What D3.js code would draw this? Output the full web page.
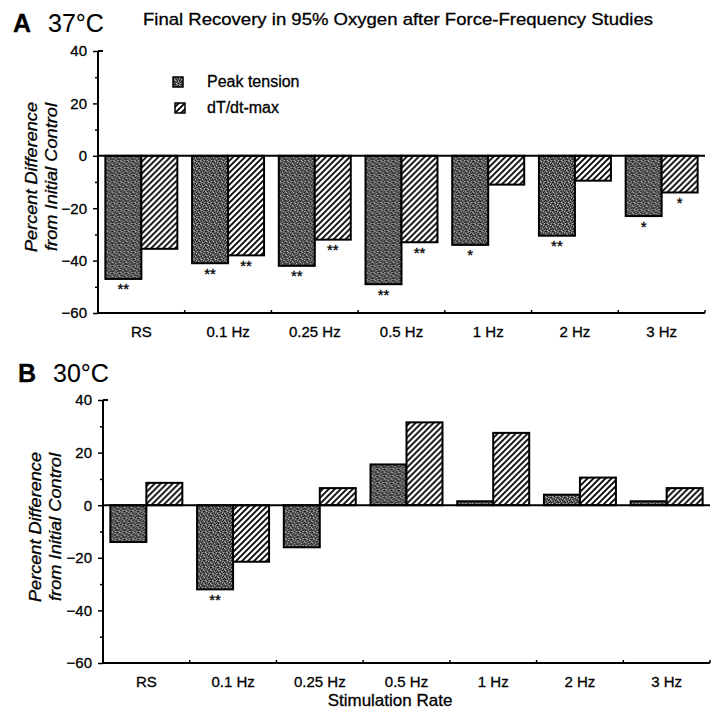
<!DOCTYPE html>
<html lang="en">
<head>
  <meta charset="UTF-8">
  <title>Final Recovery in 95% Oxygen after Force-Frequency Studies</title>
  <script src="https://d3js.org/d3.v7.min.js"></script>
  <style>
    body { margin: 0; background: #fff; }
    svg { font-family: "Liberation Sans", Arial, Helvetica, sans-serif; }
    svg text { stroke: #000; stroke-width: 0.3px; }
    .tick text { font-size: 15px; fill: #000; }
    .ylab { font-style: italic; font-size: 17px; }
  </style>
</head>
<body>
  <div id="chart"></div>

  <script>
    const categories = ["RS", "0.1 Hz", "0.25 Hz", "0.5 Hz", "1 Hz", "2 Hz", "3 Hz"];
    const series = ["Peak tension", "dT/dt-max"];
    const yTicks = [40, 20, 0, -20, -40, -60];
    const yMinorTicks = [30, 10, -10, -30, -50];

    // panel A, 37°C
    const peakA = [-47, -41, -42, -49, -34, -30.5, -23];
    const dtdtA = [-35.5, -38, -32, -33, -11, -9.5, -14];
    const sigPeakA = ["**", "**", "**", "**", "*", "**", "*"];
    const sigDtdtA = ["", "**", "**", "**", "", "", "*"];

    // panel B, 30°C
    const peakB = [-14, -32, -16, 15.5, 1.5, 4, 1.5];
    const dtdtB = [8.5, -21.5, 6.5, 31.5, 27.5, 10.5, 6.5];
    const sigPeakB = ["", "**", "", "", "", "", ""];
    const sigDtdtB = ["", "", "", "", "", "", ""];

    const width = 718;
    const height = 711;

    const svg = d3.select("#chart")
      .append("svg")
      .attr("width", width)
      .attr("height", height);

    const defs = svg.append("defs");

    // stippled grey for peak tension (fixed speckle tile)
    const stip = defs.append("pattern")
      .attr("id", "stipple")
      .attr("patternUnits", "userSpaceOnUse")
      .attr("width", 7)
      .attr("height", 7);
    stip.append("rect").attr("width", 7).attr("height", 7).attr("fill", "#5e5e5e");
    const darkDots = [[0, 0], [3, 1], [1, 2], [5, 2], [4, 3], [2, 4], [6, 4], [5, 5], [0, 5], [3, 6], [6, 0]];
    const lightDots = [[2, 0], [6, 2], [0, 3], [3, 4], [1, 6], [5, 6], [4, 1]];
    darkDots.forEach(([x, y]) => stip.append("rect").attr("x", x).attr("y", y)
      .attr("width", 1).attr("height", 1).attr("fill", "#1a1a1a"));
    lightDots.forEach(([x, y]) => stip.append("rect").attr("x", x).attr("y", y)
      .attr("width", 1).attr("height", 1).attr("fill", "#b4b4b4"));

    // diagonal hatch for dT/dt-max
    const hatch = defs.append("pattern")
      .attr("id", "hatch")
      .attr("patternUnits", "userSpaceOnUse")
      .attr("width", 6)
      .attr("height", 6);
    hatch.append("rect").attr("width", 6).attr("height", 6).attr("fill", "#fff");
    hatch.append("path")
      .attr("d", "M0,6 L6,0 M-1,1 L1,-1 M5,7 L7,5")
      .attr("stroke", "#000")
      .attr("stroke-width", 1.8);

    const fills = ["url(#stipple)", "url(#hatch)"];

    function drawPanel(opt) {
      const g = svg.append("g");

      const x = d3.scaleBand()
        .domain(categories)
        .range([opt.x0, opt.x1])
        .paddingInner(0.17)
        .paddingOuter(0.085);

      const xs = d3.scaleBand()
        .domain(series)
        .range([0, x.bandwidth()]);

      const y = d3.scaleLinear()
        .domain([-60, 40])
        .range(opt.yRange);

      // y axis
      const yAxis = g.append("g")
        .attr("transform", `translate(${opt.x0},0)`)
        .call(d3.axisLeft(y).tickValues(yTicks).tickSize(5).tickPadding(6)
          .tickFormat(d3.format("d")));
      yAxis.select(".domain").remove();
      yAxis.selectAll(".tick line").attr("stroke-width", 1.5);

      const yMinor = g.append("g")
        .attr("transform", `translate(${opt.x0},0)`)
        .call(d3.axisLeft(y).tickValues(yMinorTicks).tickSize(3).tickFormat(""));
      yMinor.select(".domain").remove();
      yMinor.selectAll(".tick line").attr("stroke-width", 1.5);

      g.append("line")
        .attr("x1", opt.x0).attr("x2", opt.x0)
        .attr("y1", y(40)).attr("y2", y(-60))
        .attr("stroke", "#000").attr("stroke-width", 2);
      g.append("line")
        .attr("x1", opt.x0).attr("x2", opt.x0 + 5)
        .attr("y1", y(40)).attr("y2", y(40))
        .attr("stroke", "#000").attr("stroke-width", 2);

      // x axis
      g.append("line")
        .attr("x1", opt.x0).attr("x2", opt.x1)
        .attr("y1", y(-60)).attr("y2", y(-60))
        .attr("stroke", "#000").attr("stroke-width", 2);
      categories.forEach((c, i) => {
        const bx = opt.x0 + (i + 1) * x.step();
        g.append("line")
          .attr("x1", bx).attr("x2", bx)
          .attr("y1", y(-60)).attr("y2", y(-60) - 3)
          .attr("stroke", "#000").attr("stroke-width", 1.5);
      });

      const xAxis = g.append("g")
        .attr("transform", `translate(0,${y(-60)})`)
        .call(d3.axisBottom(x).tickSize(0).tickPadding(13));
      xAxis.select(".domain").remove();

      // bars
      const rows = categories.map((c, i) => ({
        cat: c,
        vals: [opt.peak[i], opt.dtdt[i]],
        sig: [opt.sigPeak[i], opt.sigDtdt[i]]
      }));

      const grp = g.selectAll(".grp")
        .data(rows)
        .enter()
        .append("g")
        .attr("class", "grp")
        .attr("transform", d => `translate(${x(d.cat)},0)`);

      grp.selectAll("rect")
        .data(d => d.vals.map((v, k) => ({ v, k, s: d.sig[k] })))
        .enter()
        .append("rect")
        .attr("x", d => xs(series[d.k]))
        .attr("y", d => y(Math.max(0, d.v)))
        .attr("width", xs.bandwidth())
        .attr("height", d => Math.abs(y(d.v) - y(0)))
        .attr("fill", d => fills[d.k])
        .attr("stroke", "#000")
        .attr("stroke-width", 2);

      grp.selectAll(".sig")
        .data(d => d.vals.map((v, k) => ({ v, k, s: d.sig[k] })))
        .enter()
        .append("text")
        .attr("class", "sig")
        .attr("x", d => xs(series[d.k]) + xs.bandwidth() / 2)
        .attr("y", d => y(d.v) + 15.5)
        .attr("text-anchor", "middle")
        .attr("font-size", 15)
        .text(d => d.s);

      // zero line
      g.append("line")
        .attr("x1", opt.x0).attr("x2", opt.x1)
        .attr("y1", y(0)).attr("y2", y(0))
        .attr("stroke", "#000").attr("stroke-width", 2);

      // y label
      const ly = g.append("g")
        .attr("transform", `translate(${opt.labX},${opt.labY}) rotate(-90)`);
      ly.append("text")
        .attr("class", "ylab")
        .attr("text-anchor", "middle")
        .attr("textLength", 150)
        .attr("lengthAdjust", "spacingAndGlyphs")
        .text("Percent Difference");
      ly.append("text")
        .attr("class", "ylab")
        .attr("text-anchor", "middle")
        .attr("y", 20)
        .attr("textLength", 148)
        .attr("lengthAdjust", "spacingAndGlyphs")
        .text("from Initial Control");

      // panel heading
      g.append("text")
        .attr("x", opt.hx)
        .attr("y", opt.hy)
        .attr("font-size", 25)
        .attr("font-weight", "bold")
        .text(opt.letter);
      g.append("text")
        .attr("x", opt.hx + 35)
        .attr("y", opt.hy)
        .attr("font-size", 25)
        .style("stroke-width", "0.1px")
        .text(opt.temp);

      return { x, y, g };
    }

    const A = drawPanel({
      x0: 98, x1: 705, yRange: [313, 51],
      peak: peakA, dtdt: dtdtA, sigPeak: sigPeakA, sigDtdt: sigDtdtA,
      labX: 37, labY: 177, letter: "A", temp: "37°C", hx: 13, hy: 32
    });

    const B = drawPanel({
      x0: 103, x1: 710, yRange: [663, 400],
      peak: peakB, dtdt: dtdtB, sigPeak: sigPeakB, sigDtdt: sigDtdtB,
      labX: 41, labY: 527, letter: "B", temp: "30°C", hx: 18, hy: 382
    });

    // title
    svg.append("text")
      .attr("x", 143)
      .attr("y", 25)
      .attr("font-size", 17)
      .attr("textLength", 510)
      .attr("lengthAdjust", "spacingAndGlyphs")
      .text("Final Recovery in 95% Oxygen after Force-Frequency Studies");

    // legend
    const legend = svg.append("g");
    const legRows = [
      { label: series[0], fill: fills[0], sx: 173, y: 82 },
      { label: series[1], fill: fills[1], sx: 175, y: 108 }
    ];
    legRows.forEach(r => {
      legend.append("rect")
        .attr("x", r.sx).attr("y", r.y - 5)
        .attr("width", 10).attr("height", 10)
        .attr("fill", r.fill)
        .attr("stroke", "#000").attr("stroke-width", 1.5);
      legend.append("text")
        .attr("x", 207).attr("y", r.y + 5)
        .attr("font-size", 16)
        .text(r.label);
    });

    // x axis title
    svg.append("text")
      .attr("x", 390)
      .attr("y", 706)
      .attr("text-anchor", "middle")
      .attr("font-size", 17)
      .text("Stimulation Rate");
  </script>
</body>
</html>
